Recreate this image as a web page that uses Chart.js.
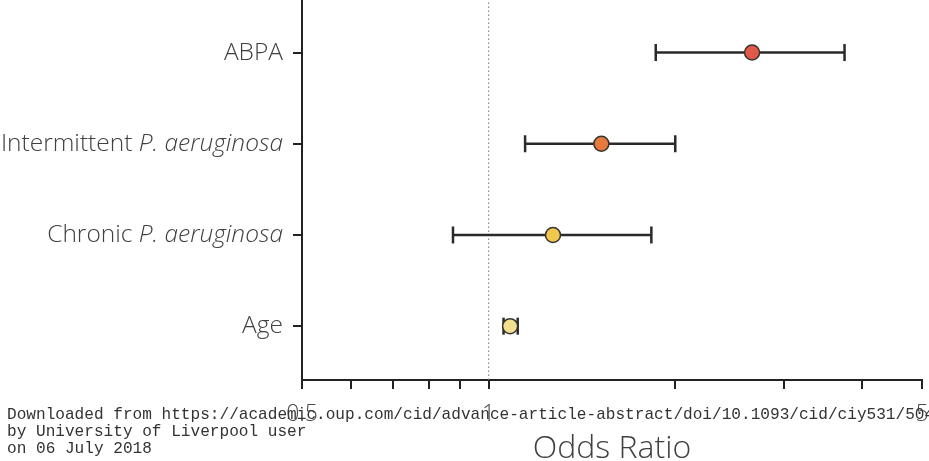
<!DOCTYPE html>
<html>
<head>
<meta charset="utf-8">
<script src="https://cdn.jsdelivr.net/npm/chart.js@4/dist/chart.umd.min.js"></script>
<style>
  body { margin: 0; background: #fff; }
  #wrap { position: relative; width: 929px; height: 461px; overflow: hidden; }
  #note {
    position: absolute; left: 7px; top: 407px;
    font: 16.1px/17px "Liberation Mono", "Courier New", monospace;
    color: #333; white-space: pre;
  }
</style>
</head>
<body>
<div id="wrap">
  <canvas id="chart" width="929" height="461"></canvas>
  <div id="note">Downloaded from https://academic.oup.com/cid/advance-article-abstract/doi/10.1093/cid/ciy531/5048
by University of Liverpool user
on 06 July 2018</div>
</div>
<script>
// rows from top to bottom
const labelMain = ["ABPA", "Intermittent ", "Chronic ", "Age"];
const labelItalic = ["", "P. aeruginosa", "P. aeruginosa", ""];
const oddsRatio = [2.66, 1.52, 1.27, 1.083];
const ciLower = [1.86, 1.145, 0.876, 1.057];
const ciUpper = [3.75, 2.0, 1.83, 1.114];
const pointColors = ["#e2594a", "#e8793c", "#f0c94c", "#f2e08e"];

const xTicks = [0.5, 0.6, 0.7, 0.8, 0.9, 1, 2, 3, 4, 5];
const xTickLabels = [0.5, 1, 5];

const Y_MIN = -0.59, Y_MAX = 3.576;
const rowY = labelMain.map((_, i) => labelMain.length - 1 - i);

const labelFont = '300 24.5px "Open Sans", "Noto Sans", sans-serif';

// draws the row names, with the italic species name
const rowLabels = {
  id: "rowLabels",
  afterDraw(chart) {
    const ctx = chart.ctx;
    const yScale = chart.scales.y;
    const right = yScale.right - 19;
    ctx.save();
    ctx.fillStyle = "#404040";
    ctx.textBaseline = "middle";
    ctx.textAlign = "right";
    labelMain.forEach((txt, i) => {
      const y = yScale.getPixelForValue(rowY[i]);
      let x = right;
      if (labelItalic[i]) {
        ctx.font = 'italic ' + labelFont;
        ctx.fillText(labelItalic[i], x, y);
        x -= ctx.measureText(labelItalic[i]).width;
      }
      ctx.font = labelFont;
      ctx.fillText(txt, x, y);
    });
    ctx.restore();
  }
};

const ciSets = labelMain.map((_, i) => ({
  data: [{ x: ciLower[i], y: rowY[i] }, { x: ciUpper[i], y: rowY[i] }],
  showLine: true,
  borderColor: "#2a2a2a",
  borderWidth: 2.5,
  pointStyle: "line",
  rotation: 90,
  pointRadius: 8.5,
  pointBorderWidth: 2.5,
  pointBorderColor: "#2a2a2a",
  order: 2
}));

const ctx = document.getElementById("chart").getContext("2d");
new Chart(ctx, {
  type: "scatter",
  data: {
    datasets: [
      {
        data: oddsRatio.map((v, i) => ({ x: v, y: rowY[i] })),
        backgroundColor: pointColors,
        borderColor: "#333",
        borderWidth: 1.5,
        pointRadius: 7.5,
        order: 0
      },
      ...ciSets,
      {
        // reference line at OR = 1
        data: [{ x: 1, y: Y_MIN }, { x: 1, y: Y_MAX }],
        showLine: true,
        borderColor: "#7a7a7a",
        borderWidth: 1,
        borderDash: [1.5, 2.5],
        pointRadius: 0,
        order: 3
      }
    ]
  },
  options: {
    responsive: false,
    animation: false,
    layout: { autoPadding: false, padding: { left: 0, right: 7, top: 0, bottom: 0 } },
    plugins: { legend: { display: false }, tooltip: { enabled: false } },
    scales: {
      x: {
        type: "logarithmic",
        min: 0.5,
        max: 5,
        afterBuildTicks: (s) => { s.ticks = xTicks.map((v) => ({ value: v })); },
        afterFit: (s) => { s.height = 81; s.paddingLeft = 0; s.paddingRight = 0; },
        ticks: {
          autoSkip: false,
          maxRotation: 0,
          padding: 12,
          color: "#4a4a4a",
          font: { family: '"Open Sans", "Noto Sans", sans-serif', size: 23, weight: 300, lineHeight: 1.2 },
          callback: (v) => (xTickLabels.includes(v) ? String(v) : "")
        },
        grid: { drawOnChartArea: false, drawTicks: true, tickLength: 9, color: "#222", lineWidth: 2 },
        border: { color: "#222", width: 2 },
        title: {
          display: true,
          text: "Odds Ratio",
          color: "#404040",
          padding: 0,
          font: { family: '"Open Sans", "Noto Sans", sans-serif', size: 32, weight: 300, lineHeight: 0.75 }
        }
      },
      y: {
        type: "linear",
        min: Y_MIN,
        max: Y_MAX,
        afterBuildTicks: (s) => { s.ticks = rowY.map((v) => ({ value: v })); },
        afterFit: (s) => { s.width = 302; s.paddingTop = 0; s.paddingBottom = 0; },
        ticks: { display: false },
        grid: { drawOnChartArea: false, drawTicks: true, tickLength: 9, color: "#222", lineWidth: 2 },
        border: { color: "#222", width: 2 }
      }
    }
  },
  plugins: [rowLabels]
});
</script>
</body>
</html>
